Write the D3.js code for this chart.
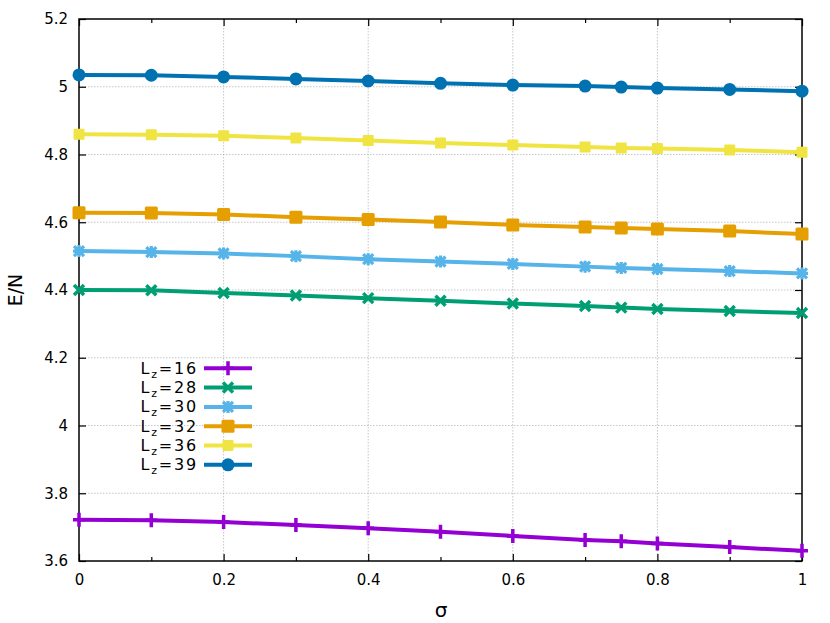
<!DOCTYPE html>
<html><head><meta charset="utf-8">
<script src="https://cdn.jsdelivr.net/npm/d3@7"></script>
<style>body{margin:0;background:#fff}svg{font-family:"DejaVu Sans",sans-serif}</style>
</head><body>
<svg id="c" width="830" height="623"></svg>
<script>
const sigma = [0, 0.1, 0.2, 0.3, 0.4, 0.5, 0.6, 0.7, 0.75, 0.8, 0.9, 1];
const lz16 = [3.722, 3.720, 3.715, 3.706, 3.697, 3.686, 3.674, 3.662, 3.658, 3.652, 3.641, 3.630];
const lz28 = [4.400, 4.399, 4.391, 4.384, 4.376, 4.368, 4.360, 4.353, 4.348, 4.344, 4.338, 4.332];
const lz30 = [4.515, 4.512, 4.508, 4.500, 4.491, 4.484, 4.477, 4.469, 4.465, 4.462, 4.456, 4.449];
const lz32 = [4.628, 4.627, 4.623, 4.615, 4.608, 4.601, 4.592, 4.586, 4.583, 4.580, 4.574, 4.565];
const lz36 = [4.860, 4.858, 4.855, 4.849, 4.841, 4.834, 4.828, 4.822, 4.819, 4.818, 4.813, 4.807];
const lz39 = [5.035, 5.034, 5.029, 5.023, 5.017, 5.010, 5.005, 5.002, 4.999, 4.996, 4.992, 4.987];
const seriesNames = ["16", "28", "30", "32", "36", "39"];
const xTicks = [0, 0.2, 0.4, 0.6, 0.8, 1];
const xMinor = [0.1, 0.3, 0.5, 0.7, 0.9];
const yTicks = [3.6, 3.8, 4, 4.2, 4.4, 4.6, 4.8, 5, 5.2];

const series = [
  {name: seriesNames[0], vals: lz16, color: "#9400d3", marker: "plus"},
  {name: seriesNames[1], vals: lz28, color: "#009e73", marker: "cross"},
  {name: seriesNames[2], vals: lz30, color: "#56b4e9", marker: "star"},
  {name: seriesNames[3], vals: lz32, color: "#e69f00", marker: "square"},
  {name: seriesNames[4], vals: lz36, color: "#f0e442", marker: "smallsquare"},
  {name: seriesNames[5], vals: lz39, color: "#0072b2", marker: "circle"}
];

const L = 79, R = 802, T = 19, B = 561;
const svg = d3.select("#c");
const x = d3.scaleLinear().domain([0, 1]).range([L, R]);
const y = d3.scaleLinear().domain([3.6, 5.2]).range([B, T]);

// grid
const g = svg.append("g");
g.selectAll(".gx").data(xTicks.slice(1, -1)).join("line")
  .attr("x1", d => x(d)).attr("x2", d => x(d)).attr("y1", T).attr("y2", B)
  .attr("stroke", "#a0a0a0").attr("stroke-width", 0.6).attr("stroke-dasharray", "1.5,1.5");
g.selectAll(".gy").data(yTicks.slice(1, -1)).join("line")
  .attr("y1", d => y(d)).attr("y2", d => y(d)).attr("x1", L).attr("x2", R)
  .attr("stroke", "#a0a0a0").attr("stroke-width", 0.6).attr("stroke-dasharray", "1.5,1.5");

// axes
const fmt = d => d3.format("~g")(d);
const axB = svg.append("g").attr("transform", `translate(0,${B})`)
  .call(d3.axisBottom(x).tickValues(xTicks).tickFormat(fmt).tickSizeInner(-7).tickSizeOuter(0).tickPadding(13));
const axT = svg.append("g").attr("transform", `translate(0,${T})`)
  .call(d3.axisTop(x).tickValues(xTicks).tickFormat("").tickSizeInner(-7).tickSizeOuter(0));
const axBm = svg.append("g").attr("transform", `translate(0,${B})`)
  .call(d3.axisBottom(x).tickValues(xMinor).tickFormat("").tickSizeInner(-4).tickSizeOuter(0));
const axTm = svg.append("g").attr("transform", `translate(0,${T})`)
  .call(d3.axisTop(x).tickValues(xMinor).tickFormat("").tickSizeInner(-4).tickSizeOuter(0));
const axL = svg.append("g").attr("transform", `translate(${L},0)`)
  .call(d3.axisLeft(y).tickValues(yTicks).tickFormat(fmt).tickSizeInner(-7).tickSizeOuter(0).tickPadding(11));
const axR = svg.append("g").attr("transform", `translate(${R},0)`)
  .call(d3.axisRight(y).tickValues(yTicks).tickFormat("").tickSizeInner(-7).tickSizeOuter(0));
[axB, axT, axBm, axTm, axL, axR].forEach(a => {
  a.select(".domain").remove();
  a.selectAll("line").attr("stroke", "#000").attr("stroke-width", 1.2);
  a.selectAll("text").attr("font-size", 15).attr("fill", "#000").attr("font-family", "DejaVu Sans, sans-serif");
});
svg.append("rect").attr("x", L).attr("y", T).attr("width", R - L).attr("height", B - T)
  .attr("fill", "none").attr("stroke", "#000").attr("stroke-width", 1.5);

// axis labels
svg.append("text").attr("x", 441).attr("y", 617).attr("text-anchor", "middle")
  .attr("font-size", 20).text("σ");
svg.append("text").attr("transform", "translate(22,290) rotate(-90)").attr("text-anchor", "middle")
  .attr("font-size", 19).text("E/N");

function drawMarker(sel, type, color) {
  if (type === "plus") {
    sel.append("path").attr("d", "M-6,0H6M0,-7V7").attr("stroke", color).attr("stroke-width", 3.5).attr("fill", "none");
  } else if (type === "cross") {
    sel.append("path").attr("d", "M-5,-5L5,5M-5,5L5,-5").attr("stroke", color).attr("stroke-width", 3.5).attr("fill", "none");
  } else if (type === "star") {
    sel.append("path").attr("d", "M-6,0H6M0,-6V6M-5,-5L5,5M-5,5L5,-5").attr("stroke", color).attr("stroke-width", 3.2).attr("fill", "none");
  } else if (type === "square") {
    sel.append("rect").attr("x", -6.5).attr("y", -6.5).attr("width", 13).attr("height", 13).attr("rx", 1.5).attr("fill", color);
  } else if (type === "smallsquare") {
    sel.append("rect").attr("x", -5.5).attr("y", -5.5).attr("width", 11).attr("height", 11).attr("rx", 1).attr("fill", color);
  } else if (type === "circle") {
    sel.append("circle").attr("r", 6.5).attr("fill", color);
  }
}

const line = d3.line().x((d, i) => x(sigma[i])).y(d => y(d));
series.forEach(s => {
  svg.append("path").datum(s.vals).attr("d", line).attr("fill", "none")
    .attr("stroke", s.color).attr("stroke-width", 4).attr("stroke-linejoin", "round");
  svg.append("g").selectAll("g").data(s.vals).join("g")
    .attr("transform", (d, i) => `translate(${x(sigma[i])},${y(d)})`)
    .each(function() { drawMarker(d3.select(this), s.marker, s.color); });
});

// legend
const leg = svg.append("g");
series.forEach((s, i) => {
  const yy = 368.3 + i * 19.3;
  const t = leg.append("text").attr("x", 198).attr("y", yy + 5.5).attr("text-anchor", "end")
    .attr("font-size", 16).attr("letter-spacing", 1.8);
  t.append("tspan").text("L");
  t.append("tspan").attr("font-size", 11).attr("dy", 4).text("z");
  t.append("tspan").attr("dy", -4).text("=" + s.name);
  leg.append("line").attr("x1", 204).attr("x2", 252).attr("y1", yy).attr("y2", yy)
    .attr("stroke", s.color).attr("stroke-width", 4);
  const m = leg.append("g").attr("transform", `translate(228,${yy})`);
  drawMarker(m, s.marker, s.color);
});
</script>
</body></html>
